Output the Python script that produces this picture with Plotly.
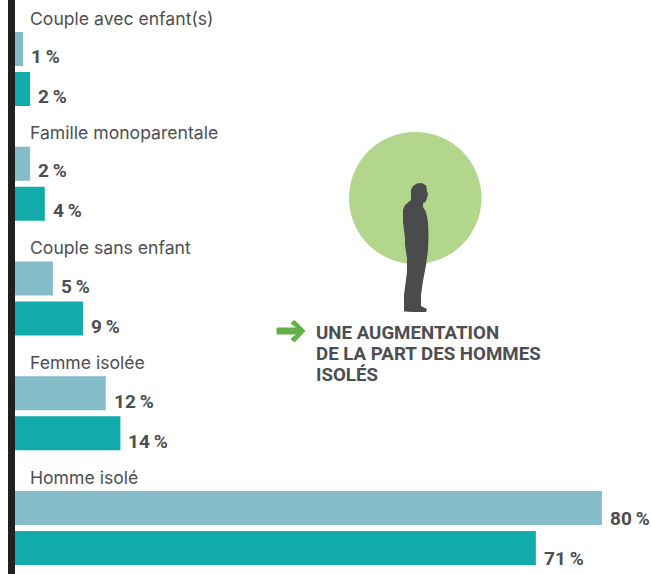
import plotly.graph_objects as go

# Data
categories = ["Couple avec enfant(s)", "Famille monoparentale", "Couple sans enfant", "Femme isolée", "Homme isolé"]
series_light = [1.15, 2.1, 5.2, 12.4, 80]
series_dark = [2.1, 4.1, 9.3, 14.4, 71]
labels_light = ["1\u2009%", "2\u2009%", "5\u2009%", "12\u2009%", "80\u2009%"]
labels_dark = ["2\u2009%", "4\u2009%", "9\u2009%", "14\u2009%", "71\u2009%"]
note_lines = ["UNE AUGMENTATION", "DE LA PART DES HOMMES", "ISOLÉS"]

W, H = 651, 574
X0 = 14.7
PX_PER_UNIT = 7.34
GROUP_H = 114.75
FIRST_CENTER = 69
LIGHT, DARK, INK, GREY = "#84bdc9", "#11abab", "#231f20", "#4d4e50"

def px(x): return x / W
def py(y): return 1 - y / H
def path(points):
    return "M" + " L".join(f"{px(x):.4f},{py(y):.4f}" for x, y in points) + " Z"

fig = go.Figure()
fig.add_bar(y=categories, x=series_light, orientation="h", marker_color=LIGHT, marker_line_width=0, showlegend=False)
fig.add_bar(y=categories, x=series_dark, orientation="h", marker_color=DARK, marker_line_width=0, showlegend=False)

annotations = []
label_drop = [7, 7, 8, 8, 10]
for i, cat in enumerate(categories):
    annotations.append(dict(x=0, y=cat, xref="x", yref="y", text=cat, showarrow=False, xanchor="left",
                            xshift=13, yshift=51, font=dict(family="Inter", size=17.6, color=GREY)))
    for v, lab, off in ((series_light[i], labels_light[i], -20), (series_dark[i], labels_dark[i], 20)):
        annotations.append(dict(x=v, y=cat, xref="x", yref="y", text=f"<b>{lab}</b>", showarrow=False, xanchor="left",
                                xshift=6, yshift=-(off + label_drop[i]),
                                font=dict(family="Roboto", size=19, color=GREY)))
for line, y in zip(note_lines, (333, 354, 375)):
    annotations.append(dict(x=px(316), y=py(y), xref="paper", yref="paper", text=f"<b>{line}</b>", showarrow=False,
                            xanchor="left", xshift=-2, font=dict(family="Roboto", size=18.7, color=GREY)))

silhouette = [
    (411, 196), (411, 190), (413, 186), (417, 183.5), (422, 183), (426, 185.5), (427, 191), (428, 194), (427, 198),
    (425.5, 202), (423, 203), (423, 207), (426, 212), (428, 222), (428.5, 235), (428, 250), (426, 265), (423, 281),
    (421, 295), (421, 306), (427, 309), (426, 312), (413, 312), (404, 311.5), (404, 295), (407, 272), (407, 258),
    (405, 245), (405, 238), (403, 222), (403, 210), (405, 205), (411, 200),
]
arrow = [(277, 328), (297, 328), (291, 323), (294.5, 320.5), (305, 331), (294.5, 342), (291, 339), (297, 334), (277, 334)]

fig.update_layout(
    width=W, height=H, margin=dict(l=0, r=0, t=0, b=0), paper_bgcolor="white", plot_bgcolor="white",
    barmode="group", bargap=1 - 80 / GROUP_H, bargroupgap=0.15,
    xaxis=dict(domain=[X0 / W, 1], range=[0, (W - X0) / PX_PER_UNIT], visible=False, fixedrange=True),
    yaxis=dict(type="category", categoryorder="array", categoryarray=categories,
               range=[(H - FIRST_CENTER) / GROUP_H, -FIRST_CENTER / GROUP_H],
               showline=True, linewidth=7, linecolor=INK, showticklabels=False, ticks="", showgrid=False, zeroline=False),
    annotations=annotations,
    shapes=[
        dict(type="circle", xref="paper", yref="paper", x0=px(349), x1=px(481.5), y0=py(264), y1=py(132),
             fillcolor="#b2d68c", line_width=0, layer="below"),
        dict(type="path", xref="paper", yref="paper", path=path(silhouette), fillcolor="#4a4b4d", line_width=0),
        dict(type="path", xref="paper", yref="paper", path=path(arrow), fillcolor="#62b146", line=dict(color="#62b146", width=1)),
    ],
)
fig.write_html("out.html", config={"displayModeBar": False},
               post_script="document.body.style.margin='0';document.body.style.overflow='hidden';")
